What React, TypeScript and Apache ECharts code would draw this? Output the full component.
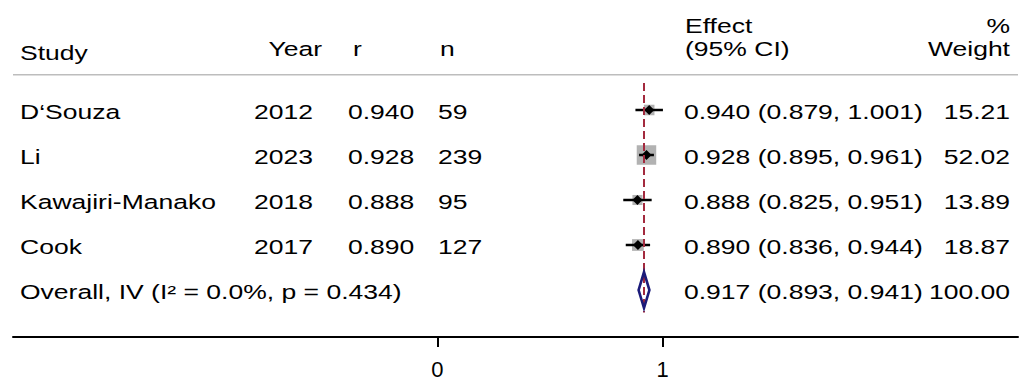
import React, { useEffect, useRef } from "react";
import * as echarts from "echarts";

// ---- data ----
const studies = ["D\u2018Souza", "Li", "Kawajiri-Manako", "Cook"];
const years = ["2012", "2023", "2018", "2017"];
const rValues = ["0.940", "0.928", "0.888", "0.890"];
const nValues = ["59", "239", "95", "127"];
const effects = [0.94, 0.928, 0.888, 0.89];
const lowerCI = [0.879, 0.895, 0.825, 0.836];
const upperCI = [1.001, 0.961, 0.951, 0.944];
const weights = [15.21, 52.02, 13.89, 18.87];
const overallLabel = "Overall, IV (I\u00B2 = 0.0%, p = 0.434)";
const overallEffect = [0.917];
const overallLower = [0.893];
const overallUpper = [0.941];
const overallWeight = [100.0];
const xTicks = [0, 1];
const headerTop = ["Effect", "%"];
const headerBottom = ["Study", "Year", "r", "n", "(95% CI)", "Weight"];

// ---- layout ----
const X_MIN = -1.8825;
const X_MAX = 2.5763;
const Y_MIN = -2.4444;
const Y_MAX = 5.0444;
const HEADER_RULE_ROW = -0.784;
const FONT = '19.5px "Liberation Sans", Arial, sans-serif';
const SCALE_X = 1.36;

type Cell = { text: string; x: number; align: string; row?: number; y?: number };

const cells: Cell[] = [];
// headers
cells.push({ text: headerTop[0], x: 685, align: "left", y: 26 });
cells.push({ text: headerTop[1], x: 1010, align: "right", y: 26 });
cells.push({ text: headerBottom[0], x: 20, align: "left", y: 53 });
cells.push({ text: headerBottom[1], x: 322, align: "right", y: 49.5 });
cells.push({ text: headerBottom[2], x: 353, align: "left", y: 49.5 });
cells.push({ text: headerBottom[3], x: 440, align: "left", y: 49.5 });
cells.push({ text: headerBottom[4], x: 685, align: "left", y: 49.5 });
cells.push({ text: headerBottom[5], x: 1010, align: "right", y: 49.5 });
// study rows
studies.forEach((s, i) => {
  cells.push({ text: s, x: 20, align: "left", row: i });
  cells.push({ text: years[i], x: 313, align: "right", row: i });
  cells.push({ text: rValues[i], x: 348, align: "left", row: i });
  cells.push({ text: nValues[i], x: 438, align: "left", row: i });
  cells.push({
    text: `${effects[i].toFixed(3)} (${lowerCI[i].toFixed(3)}, ${upperCI[i].toFixed(3)})`,
    x: 684,
    align: "left",
    row: i,
  });
  cells.push({ text: weights[i].toFixed(2), x: 1010, align: "right", row: i });
});
// overall row
const overallRow = studies.length;
cells.push({ text: overallLabel, x: 20, align: "left", row: overallRow });
cells.push({
  text: `${overallEffect[0].toFixed(3)} (${overallLower[0].toFixed(3)}, ${overallUpper[0].toFixed(3)})`,
  x: 684,
  align: "left",
  row: overallRow,
});
cells.push({ text: overallWeight[0].toFixed(2), x: 1010, align: "right", row: overallRow });

const maxWeight = Math.max(...weights);

export default function App() {
  const ref = useRef<HTMLDivElement>(null);
  useEffect(() => {
    if (!ref.current) return;
    const chart = echarts.init(ref.current, undefined, { renderer: "svg" });
    chart.setOption({
      animation: false,
      backgroundColor: "#ffffff",
      grid: { left: 13, right: 16, top: 0, bottom: 53 },
      xAxis: {
        type: "value",
        min: X_MIN,
        max: X_MAX,
        axisLine: { show: true, onZero: false, lineStyle: { color: "#000", width: 2 } },
        axisTick: { show: true, length: 10, lineStyle: { color: "#000", width: 2 }, customValues: xTicks },
        axisLabel: {
          customValues: xTicks,
          fontSize: 22,
          color: "#000",
          fontFamily: '"Liberation Sans", Arial, sans-serif',
          margin: 21,
        },
        splitLine: { show: false },
      },
      yAxis: { type: "value", inverse: true, min: Y_MIN, max: Y_MAX, show: false },
      series: [
        {
          type: "custom",
          name: "rule",
          silent: true,
          data: [[0, HEADER_RULE_ROW]],
          renderItem: (params: any, api: any) => {
            const a = api.coord([X_MIN, HEADER_RULE_ROW]);
            const b = api.coord([X_MAX, HEADER_RULE_ROW]);
            return {
              type: "line",
              shape: { x1: a[0], y1: a[1], x2: b[0], y2: b[1] },
              style: { stroke: "#bdbdbd", lineWidth: 1.6 },
            };
          },
        },
        {
          type: "custom",
          name: "studies",
          silent: true,
          data: effects.map((e, i) => [e, i, lowerCI[i], upperCI[i], weights[i]]),
          encode: { x: 0, y: 1 },
          renderItem: (params: any, api: any) => {
            const est = api.value(0);
            const row = api.value(1);
            const lo = api.value(2);
            const hi = api.value(3);
            const w = api.value(4);
            const c = api.coord([est, row]);
            const l = api.coord([lo, row]);
            const h = api.coord([hi, row]);
            const side = 19.5 * Math.sqrt(w / maxWeight);
            const d = 5;
            return {
              type: "group",
              children: [
                {
                  type: "rect",
                  shape: { x: c[0] - side / 2, y: c[1] - side / 2, width: side, height: side },
                  style: { fill: "#b2b2b2" },
                },
                {
                  type: "line",
                  shape: { x1: l[0], y1: c[1], x2: h[0], y2: c[1] },
                  style: { stroke: "#000", lineWidth: 2.5 },
                },
                {
                  type: "polygon",
                  shape: {
                    points: [
                      [c[0] - d, c[1]],
                      [c[0], c[1] - d],
                      [c[0] + d, c[1]],
                      [c[0], c[1] + d],
                    ],
                  },
                  style: { fill: "#000" },
                },
              ],
            };
          },
        },
        {
          type: "custom",
          name: "overall",
          silent: true,
          data: overallEffect.map((e, i) => [e, overallRow, overallLower[i], overallUpper[i]]),
          encode: { x: 0, y: 1 },
          renderItem: (params: any, api: any) => {
            const est = api.value(0);
            const row = api.value(1);
            const lo = api.value(2);
            const hi = api.value(3);
            const top = api.coord([est, -0.6]);
            const bot = api.coord([est, row + 0.5]);
            const half = 0.4;
            const pL = api.coord([lo, row]);
            const pT = api.coord([est, row - half]);
            const pR = api.coord([hi, row]);
            const pB = api.coord([est, row + half]);
            return {
              type: "group",
              children: [
                {
                  type: "line",
                  shape: { x1: top[0], y1: top[1], x2: bot[0], y2: bot[1] },
                  style: { stroke: "#a32a3e", lineWidth: 2, lineDash: [8, 4] },
                },
                {
                  type: "polygon",
                  shape: { points: [pL, pT, pR, pB] },
                  style: { fill: "none", stroke: "#1b1b7a", lineWidth: 2.6, lineJoin: "miter" },
                },
              ],
            };
          },
        },
        {
          type: "custom",
          name: "table",
          silent: true,
          data: cells.map(() => [0, 0]),
          renderItem: (params: any, api: any) => {
            const cell = cells[params.dataIndex];
            const y = cell.row !== undefined ? api.coord([0, cell.row])[1] + 2 : (cell.y as number);
            return {
              type: "text",
              x: cell.x,
              y,
              scaleX: SCALE_X,
              style: {
                text: cell.text,
                font: FONT,
                fill: "#000",
                align: cell.align,
                verticalAlign: "middle",
              },
            };
          },
        },
      ],
    });
    return () => chart.dispose();
  }, []);
  return (
    <div
      ref={ref}
      style={{ position: "absolute", left: 0, top: 0, width: 1034, height: 390, background: "#fff" }}
    />
  );
}
